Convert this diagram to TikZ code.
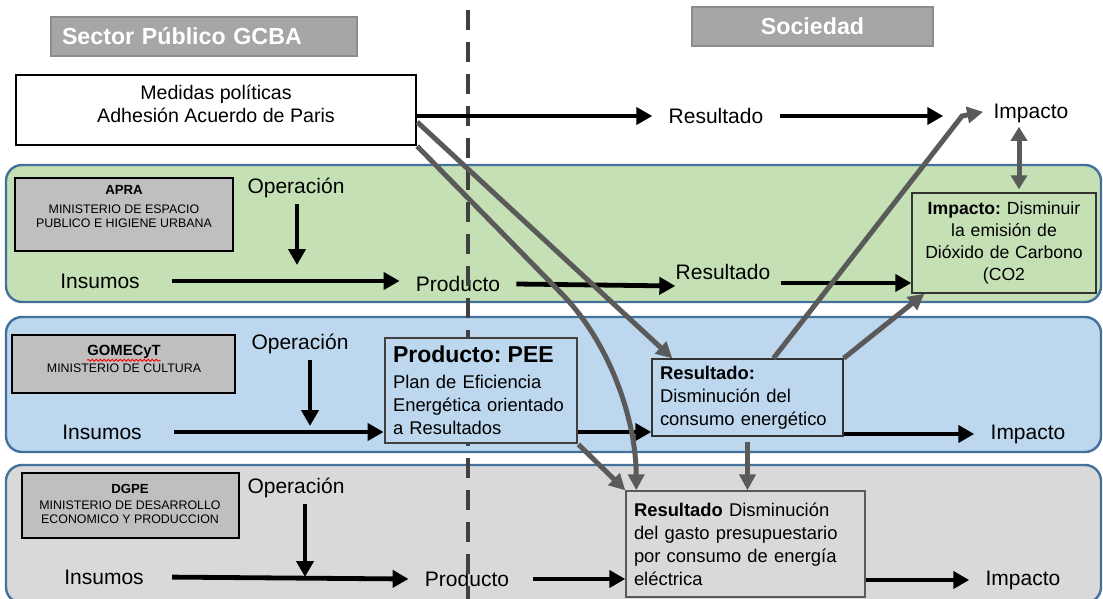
\documentclass[tikz,border=0pt]{standalone}
\usepackage{fontspec}
\setmainfont{Liberation Sans}
\usetikzlibrary{arrows.meta,decorations.pathmorphing}
\frenchspacing

\definecolor{lanegreen}{HTML}{C5E0B4}
\definecolor{laneblue}{HTML}{BDD7EE}
\definecolor{lanegray}{HTML}{D9D9D9}
\definecolor{laneline}{HTML}{41719C}
\definecolor{agencygray}{HTML}{BFBFBF}
\definecolor{hdrfill}{HTML}{A6A6A6}
\definecolor{hdrline}{HTML}{8C8C8C}
\definecolor{linkgray}{HTML}{5A5A5A}
\definecolor{divider}{HTML}{404040}

\tikzset{
  lane/.style={draw=laneline, line width=1.2pt, rounded corners=8pt},
  agency/.style={draw=black, fill=agencygray, line width=1pt, inner sep=0pt},
  aghead/.style={font=\bfseries\fontsize{6.6}{8}\selectfont, inner sep=0pt},
  agtext/.style={align=center, font=\fontsize{6.2}{7.2}\selectfont, inner sep=0pt},
  hdr/.style={draw=hdrline, fill=hdrfill, line width=0.8pt, text=white,
    font=\bfseries\fontsize{11.6}{14}\selectfont, minimum height=19.5pt, inner sep=0pt},
  lbl/.style={font=\fontsize{10.5}{12}\selectfont, inner xsep=8pt, inner ysep=0pt},
  txtbox/.style={draw=black!80, line width=0.7pt, align=left,
    font=\fontsize{9.2}{11.5}\selectfont, inner xsep=4pt, inner ysep=0pt},
  blk/.style={line width=2.4pt, -{Triangle[length=8pt,width=8.5pt]}},
  lnk/.style={draw=linkgray, line width=2.5pt, -{Triangle[length=8pt,width=8pt]}},
}

\begin{document}
\begin{tikzpicture}[x=0.5pt,y=-0.5pt]
  \useasboundingbox (0,0) rectangle (1103,599);

  % bandas
  \draw[lane, fill=lanegreen] (6,165) rectangle (1101,302);
  \draw[lane, fill=laneblue] (6,317) rectangle (1101,452);
  \draw[lane, fill=lanegray] (6,465) rectangle (1101,603);

  \node[hdr, minimum width=153pt, text width=142pt, align=left, inner xsep=5.5pt] (gcba) at (204,36.5) {Sector Público GCBA};
  \node[hdr, minimum width=120.5pt] (soc) at (812.5,26.5) {Sociedad};

  \node[draw, line width=1.2pt, fill=white, minimum width=200pt, minimum height=35pt, inner sep=0pt] (med) at (216,110) {};
  \node[align=center, font=\fontsize{9.8}{11.5}\selectfont, inner sep=0pt] (medt) at (216,103.5) {Medidas políticas\\Adhesión Acuerdo de Paris};

  \node[agency, minimum width=109pt, minimum height=36.5pt] (apra) at (124,214.5) {};
  \node[aghead] (aprat) at (124,190) {APRA};
  \node[agtext] (aprab) at (124,216) {MINISTERIO DE ESPACIO\\PUBLICO E HIGIENE URBANA};
  \node[agency, minimum width=111.5pt, minimum height=29pt] (gom) at (123.5,364) {};
  \node[aghead, font=\bfseries\fontsize{7.4}{8}\selectfont] (gomt) at (124,352) {GOMECyT};
  \node[agtext] (gomb) at (124,368) {MINISTERIO DE CULTURA};
  \draw[red, line width=0.4pt, decorate, decoration={snake, amplitude=0.5pt, segment length=2pt}]
    ([yshift=-0.6pt]gomt.south west) -- ([yshift=-0.6pt]gomt.south east);
  \node[agency, minimum width=108.5pt, minimum height=32.5pt] (dgpe) at (130.5,505.5) {};
  \node[aghead] (dgpet) at (130,489) {DGPE};
  \node[agtext] (dgpeb) at (130,512) {MINISTERIO DE DESARROLLO\\ECONOMICO Y PRODUCCION};

  \node[lbl] (res0) at (716,116) {Resultado};
  \node[lbl] (imp0) at (1031,113) {Impacto};
  \node[lbl] (op1) at (296,188) {Operación};
  \node[lbl] (ins1) at (100,281) {Insumos};
  \node[lbl] (prod1) at (458,284) {Producto};
  \node[lbl] (res1) at (723,272) {Resultado};
  \node[lbl] (op2) at (300,344) {Operación};
  \node[lbl] (ins2) at (102,432) {Insumos};
  \node[lbl] (imp2) at (1028,434) {Impacto};
  \node[lbl] (op3) at (296,488) {Operación};
  \node[lbl] (ins3) at (104,577) {Insumos};
  \node[lbl] (prod3) at (467,579) {Producto};
  \node[lbl] (imp3) at (1023,580) {Impacto};
  \coordinate (op1e) at (297,265);
  \coordinate (op2e) at (310,426);
  \coordinate (op3e) at (305,577);

  \draw[divider, line width=2pt, dash pattern=on 10pt off 6pt] (468,10) -- (468,599);

  \node[txtbox, fill=lanegreen, text width=84pt, minimum height=50pt, align=center, font=\fontsize{8.8}{11}\selectfont] (ib) at (1004,243)
    {\textbf{Impacto:} Disminuir\\la emisión de\\Dióxido de Carbono\\(CO2};
  \node[txtbox, draw=divider, line width=1.4pt, fill=laneblue, text width=88pt, minimum height=52.5pt] (pee) at (481,390.5)
    {{\bfseries\fontsize{11.5}{13.5}\selectfont Producto: PEE}\\[1.5pt]Plan de Eficiencia\\Energética orientado\\a Resultados};
  \node[txtbox, fill=laneblue, text width=87.5pt, minimum height=38.5pt] (rc) at (747.5,397.5)
    {\textbf{Resultado:}\\Disminución del\\consumo energético};
  \node[txtbox, draw=black!65, fill=lanegray, text width=111.5pt, minimum height=53pt] (rb) at (745.5,544)
    {\textbf{Resultado} Disminución\\del gasto presupuestario\\por consumo de energía\\eléctrica};

  % flechas negras
  \draw[blk] (med.east |- res0.west) -- (res0.west);
  \draw[blk, shorten >=17pt] (res0.east) -- (res0.east -| imp0.west);
  \draw[blk, shorten <=3pt] (op1e |- op1.south) -- (op1e);
  \draw[blk, shorten <=8pt] (ins1.east) -- (ins1.east -| prod1.west);
  \draw[blk] (prod1.east) -- ([xshift=8pt,yshift=-7pt]res1.west);
  \draw[blk, shorten <=-3pt] ([yshift=-5.5pt]res1.east) -- ([yshift=-5.5pt]res1.east -| ib.west);
  \draw[blk, shorten <=3pt] (op2e |- op2.south) -- (op2e);
  \draw[blk, shorten <=8pt] (ins2.east) -- (ins2.east -| pee.west);
  \draw[blk] (pee.east |- ins2) -- (rc.west |- ins2);
  \draw[blk] (rc.east |- imp2) -- (imp2.west);
  \draw[blk, shorten <=3pt] (op3e |- op3.south) -- (op3e);
  \draw[blk, shorten <=6pt] (ins3.east) -- (prod3.west);
  \draw[blk, shorten <=4pt] (prod3.east) -- (prod3.east -| rb.west);
  \draw[blk] (rb.east |- imp3) -- (imp3.west);

  % flechas grises
  \draw[lnk] (med.south east) -- (560,292) .. controls (610,342) and (636,420) .. ([xshift=5.5pt]rb.north west);
  \draw[lnk] ([yshift=-6pt]med.east) -- ([xshift=10.5pt]rc.north west);
  \draw[lnk] (pee.south east) -- (rb.north west);
  \draw[lnk, shorten >=-3pt] ([xshift=13pt]rc.north) -- (962,116) -- (imp0.west);
  \draw[lnk] (rc.north east) -- ([xshift=6.5pt]ib.south west);
  \draw[lnk, shorten <=2.5pt] (rc.south) -- (rc.south |- rb.north);
  \draw[lnk, {Triangle[length=7pt,width=8pt]}-{Triangle[length=7pt,width=8pt]}, shorten <=2pt, shorten >=1.5pt]
    ([xshift=-6pt]imp0.south) -- ([xshift=-6pt]imp0.south |- ib.north);
\end{tikzpicture}
\end{document}
